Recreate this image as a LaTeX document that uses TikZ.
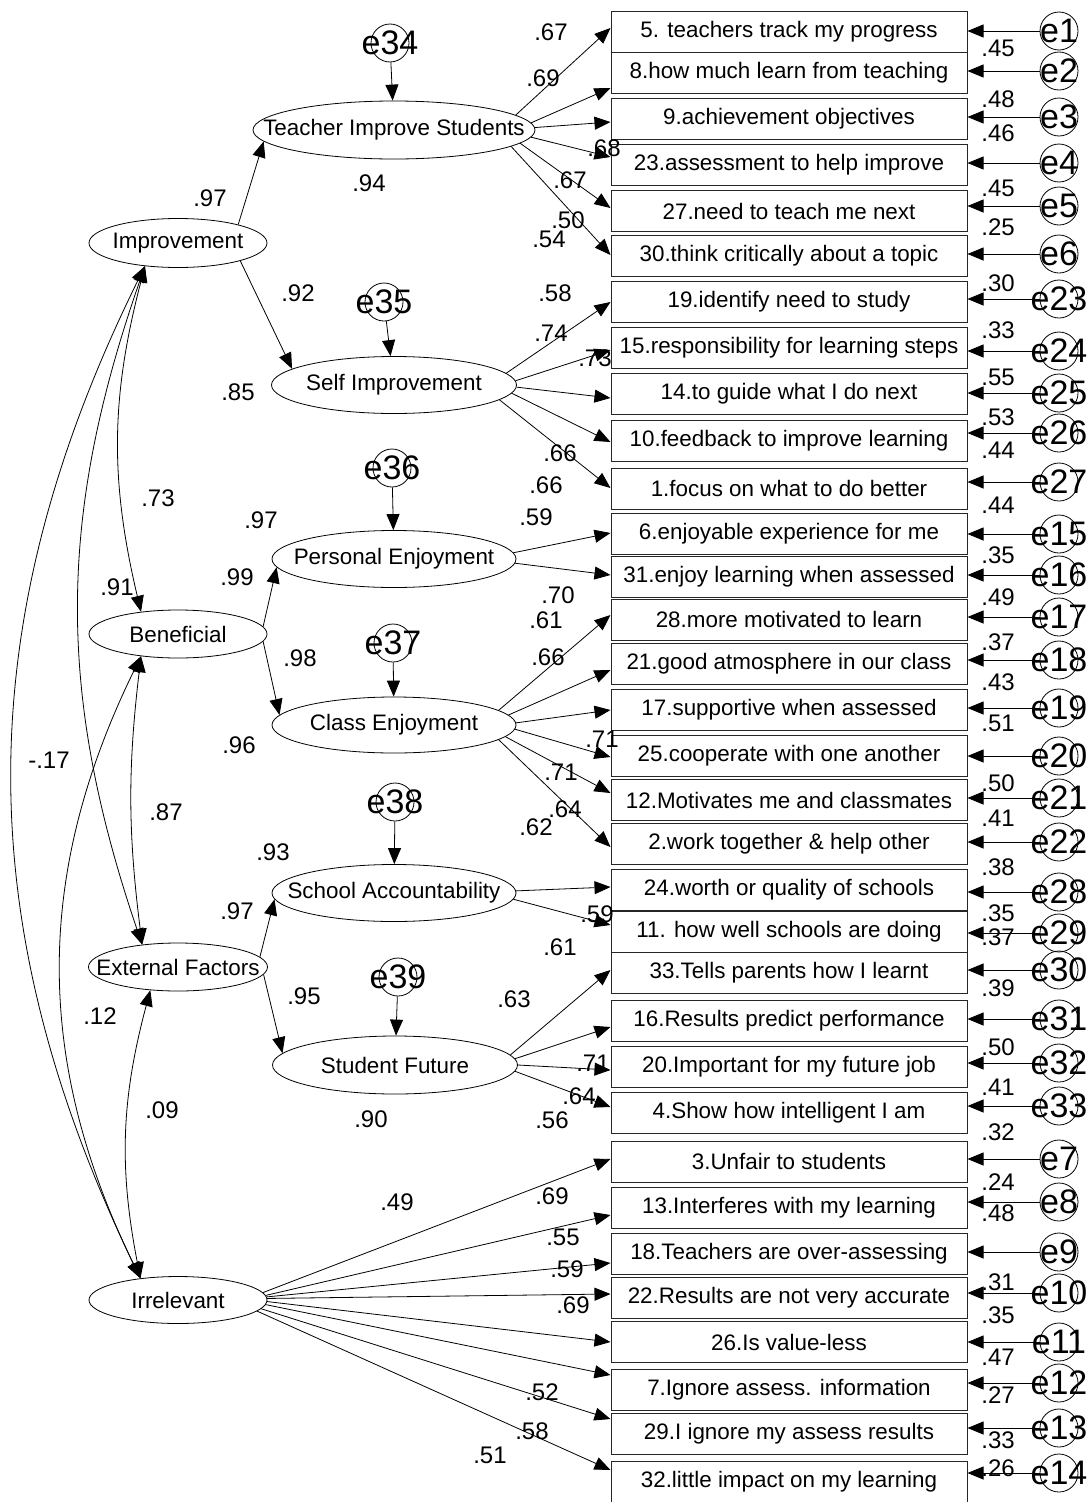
\documentclass[tikz,border=0pt]{standalone}
\usepackage{fontspec}
\setmainfont{Liberation Sans}
\usetikzlibrary{arrows.meta,shapes.geometric}
\tikzset{
  latvar/.style={draw, ellipse, inner sep=0pt, line width=0.8pt},
  latlab/.style={font=\fontsize{22.4}{26}\selectfont, inner sep=0pt},
  itembox/.style={draw=black!85, line width=1pt, minimum width=356pt,
    minimum height=41pt, inner sep=0pt, font=\fontsize{22.4}{26}\selectfont},
  errc/.style={draw, circle, minimum size=38pt, inner sep=0pt, line width=0.8pt},
  errlab/.style={font=\fontsize{34}{36}\selectfont, inner sep=0pt},
  %% paths
  pth/.style={-{Triangle[length=16pt,width=13pt]}, line width=0.8pt},
  cov/.style={{Triangle[length=16pt,width=13pt]}-{Triangle[length=16pt,width=13pt]}, line width=0.8pt},
  %% estimates
  coef/.style={font=\fontsize{24}{26}\selectfont, inner sep=0pt},
}
\begin{document}
\begin{tikzpicture}[x=1pt, y=-1pt]
\useasboundingbox (0,0) rectangle (1091,1502);

%% second order factors
\node[latvar, minimum width=178pt, minimum height=49pt, label={[latlab]center:Improvement}] (imp) at (178,243) {};
\node[latvar, minimum width=178pt, minimum height=48pt, label={[latlab]center:Beneficial}] (ben) at (178,634) {};
\node[latvar, minimum width=179pt, minimum height=48pt, label={[latlab]center:External Factors}] (ef) at (178,967) {};
\node[latvar, minimum width=178pt, minimum height=47pt, label={[latlab]center:Irrelevant}] (irr) at (178,1300) {};

%% first order factors
\node[latvar, minimum width=282pt, minimum height=58pt, label={[latlab]center:Teacher Improve Students}] (tis) at (394,130) {};
\node[latvar, minimum width=245pt, minimum height=57pt, label={[latlab]center:Self Improvement}] (si) at (394,385) {};
\node[latvar, minimum width=244pt, minimum height=57pt, label={[latlab]center:Personal Enjoyment}] (pe) at (394,559) {};
\node[latvar, minimum width=244pt, minimum height=56pt, label={[latlab]center:Class Enjoyment}] (ce) at (394,725) {};
\node[latvar, minimum width=244pt, minimum height=57pt, label={[latlab]center:School Accountability}] (sa) at (394,893) {};
\node[latvar, minimum width=245pt, minimum height=58pt, label={[latlab]center:Student Future}] (sf) at (395,1065) {};

%% disturbances
\foreach \d/\x/\y in {e34/390/43, e35/384/302, e36/392/468, e37/393/643, e38/395/802, e39/398/977}
  \node[errc, label={[errlab]center:\d}] (\d) at (\x,\y) {};
\foreach \d/\lv in {e34/tis, e35/si, e36/pe, e37/ce, e38/sa, e39/sf}
  \draw[pth] (\d) -- (\lv);

%% items
\foreach \i/\y/\txt in {
  1/31.5/{5. teachers track my progress},
  2/72.5/{8.how much learn from teaching},
  3/119/{9.achievement objectives},
  4/165/{23.assessment to help improve},
  5/211/{27.need to teach me next},
  6/255.5/{30.think critically about a topic},
  7/301.5/{19.identify need to study},
  8/347.5/{15.responsibility for learning steps},
  9/393.5/{14.to guide what I do next},
  10/440.5/{10.feedback to improve learning},
  11/488.5/{1.focus on what to do better},
  12/534/{6.enjoyable experience for me},
  13/576.5/{31.enjoy learning when assessed},
  14/619.5/{28.more motivated to learn},
  15/663.5/{21.good atmosphere in our class},
  16/709.5/{17.supportive when assessed},
  17/755.5/{25.cooperate with one another},
  18/800/{12.Motivates me and classmates},
  19/843.5/{2.work together \& help other},
  20/890/{24.worth or quality of schools},
  21/931.5/{11. how well schools are doing},
  22/972.5/{33.Tells parents how I learnt},
  23/1021/{16.Results predict performance},
  24/1067/{20.Important for my future job},
  25/1113/{4.Show how intelligent I am},
  26/1161.5/{3.Unfair to students},
  27/1207.5/{13.Interferes with my learning},
  28/1253.5/{18.Teachers are over-assessing},
  29/1297.5/{22.Results are not very accurate},
  30/1342/{26.Is value-less},
  31/1389.5/{7.Ignore assess. information},
  32/1433.5/{29.I ignore my assess results},
  33/1482/{32.little impact on my learning}}
  \node[itembox] (b\i) at (789,\y) {\txt};

%% item errors
\foreach \i/\y/\e in {1/31/e1, 2/71/e2, 3/117/e3, 4/163/e4, 5/206/e5, 6/254/e6,
  7/299/e23, 8/351/e24, 9/393/e25, 10/433/e26, 11/482/e27, 12/534/e15,
  13/575/e16, 14/617/e17, 15/660/e18, 16/708/e19, 17/756/e20, 18/798/e21,
  19/842/e22, 20/892/e28, 21/933/e29, 22/970/e30, 23/1019/e31, 24/1063/e32,
  25/1106/e33, 26/1159/e7, 27/1202/e8, 28/1252/e9, 29/1293/e10, 30/1342/e11,
  31/1383/e12, 32/1428/e13, 33/1473/e14}
{
  \node[errc, label={[errlab]center:\e}] (\e) at (1059,\y) {};
  \draw[pth] (\e) -- (b\i.east |- \e);
}

%% loadings
\foreach \lv/\i/\dy/\a in {tis/1/3.5/7, tis/2/-15.5/3, tis/3/-3/1, tis/4/8/-3, tis/5/3/-6, tis/6/0.5/-8,
  si/7/-0.5/6, si/8/-2.5/2, si/9/-4.5/-1, si/10/-1.5/-4, si/11/0.5/-8,
  pe/12/1/3, pe/13/1.5/-2,
  ce/14/4.5/8, ce/15/-6.5/5, ce/16/-0.5/1, ce/17/-1.5/-2, ce/18/7/-6, ce/19/-3.5/-8,
  sa/20/3/1, sa/21/6.5/-3,
  sf/22/2.5/5, sf/23/-6/3, sf/24/-3/0, sf/25/6/-3,
  irr/26/2.5/5, irr/27/-7.5/3, irr/28/-9.5/2, irr/29/3.5/1, irr/30/0/-1,
  irr/31/14.5/-3, irr/32/14.5/-6, irr/33/12/-8}
  \draw[pth] (\lv.\a) -- ([yshift=\dy pt]b\i.west);

%% second order paths
\draw[pth] (imp.17) -- (tis.185);
\draw[pth] (imp.-16) -- (si.171);
\draw[pth] (ben.5) -- (pe.184);
\draw[pth] (ben.-5) -- (ce.175);
\draw[pth] (ef.7) -- (sa.183);
\draw[pth] (ef.-5) -- (sf.174);

%% covariances
\draw[cov] (imp.215) to[bend right=14] (ben.149);
\draw[cov] (imp.215) to[bend right=19] (ef.148);
\draw[cov] (imp.215) to[bend right=26] (irr.150);
\draw[cov] (ben.211) to[bend right=7] (ef.148);
\draw[cov] (ben.211) to[bend right=26] (irr.150);
\draw[cov] (ef.220) to[bend right=13] (irr.150);

%% estimates on the left
\foreach \x/\y/\v [count=\k] in {210/198/.97, 298/293/.92, 237/577/.99, 300/658/.98,
  237/911/.97, 304/996/.95, 369/183/.94, 238/392/.85, 261/520/.97, 239/745/.96,
  273/852/.93, 371/1119/.90, 158/498/.73, 117/587/.91, 49/760/-.17, 166/812/.87,
  100/1016/.12, 162/1110/.09}
  \node[coef] (c\k) at (\x,\y) {\v};

%% loading estimates
\foreach \x/\y/\v [count=\k] in {551/32/.67, 543/78/.69, 604/148/.68, 570/180/.67,
  568/220/.50, 549/239/.54, 555/293/.58, 551/333/.74, 595/358/.73, 560/453/.66,
  546/485/.66, 536/517/.59, 558/595/.70, 546/620/.61, 548/657/.66, 602/739/.71,
  561/772/.71, 565/809/.64, 536/827/.62, 597/914/.59, 560/947/.61, 514/999/.63,
  593/1063/.71, 579/1096/.64, 552/1120/.56, 397/1202/.49, 552/1196/.69,
  563/1237/.55, 567/1269/.59, 573/1305/.69, 542/1392/.52, 532/1431/.58, 490/1455/.51}
  \node[coef] (l\k) at (\x,\y) {\v};

%% squared multiple correlations of items
\foreach \y/\v [count=\k] in {48/.45, 99/.48, 133/.46, 188/.45, 227/.25, 283/.30,
  330/.33, 377/.55, 417/.53, 450/.44, 505/.44, 555/.35, 597/.49, 642/.37, 682/.43,
  723/.51, 783/.50, 818/.41, 867/.38, 913/.35, 937/.37, 988/.39, 1047/.50, 1087/.41,
  1132/.32, 1182/.24, 1213/.48, 1282/.31, 1315/.35, 1357/.47, 1395/.27, 1440/.33, 1468/.26}
  \node[coef] (s\k) at (998,\y) {\v};
\end{tikzpicture}
\end{document}
